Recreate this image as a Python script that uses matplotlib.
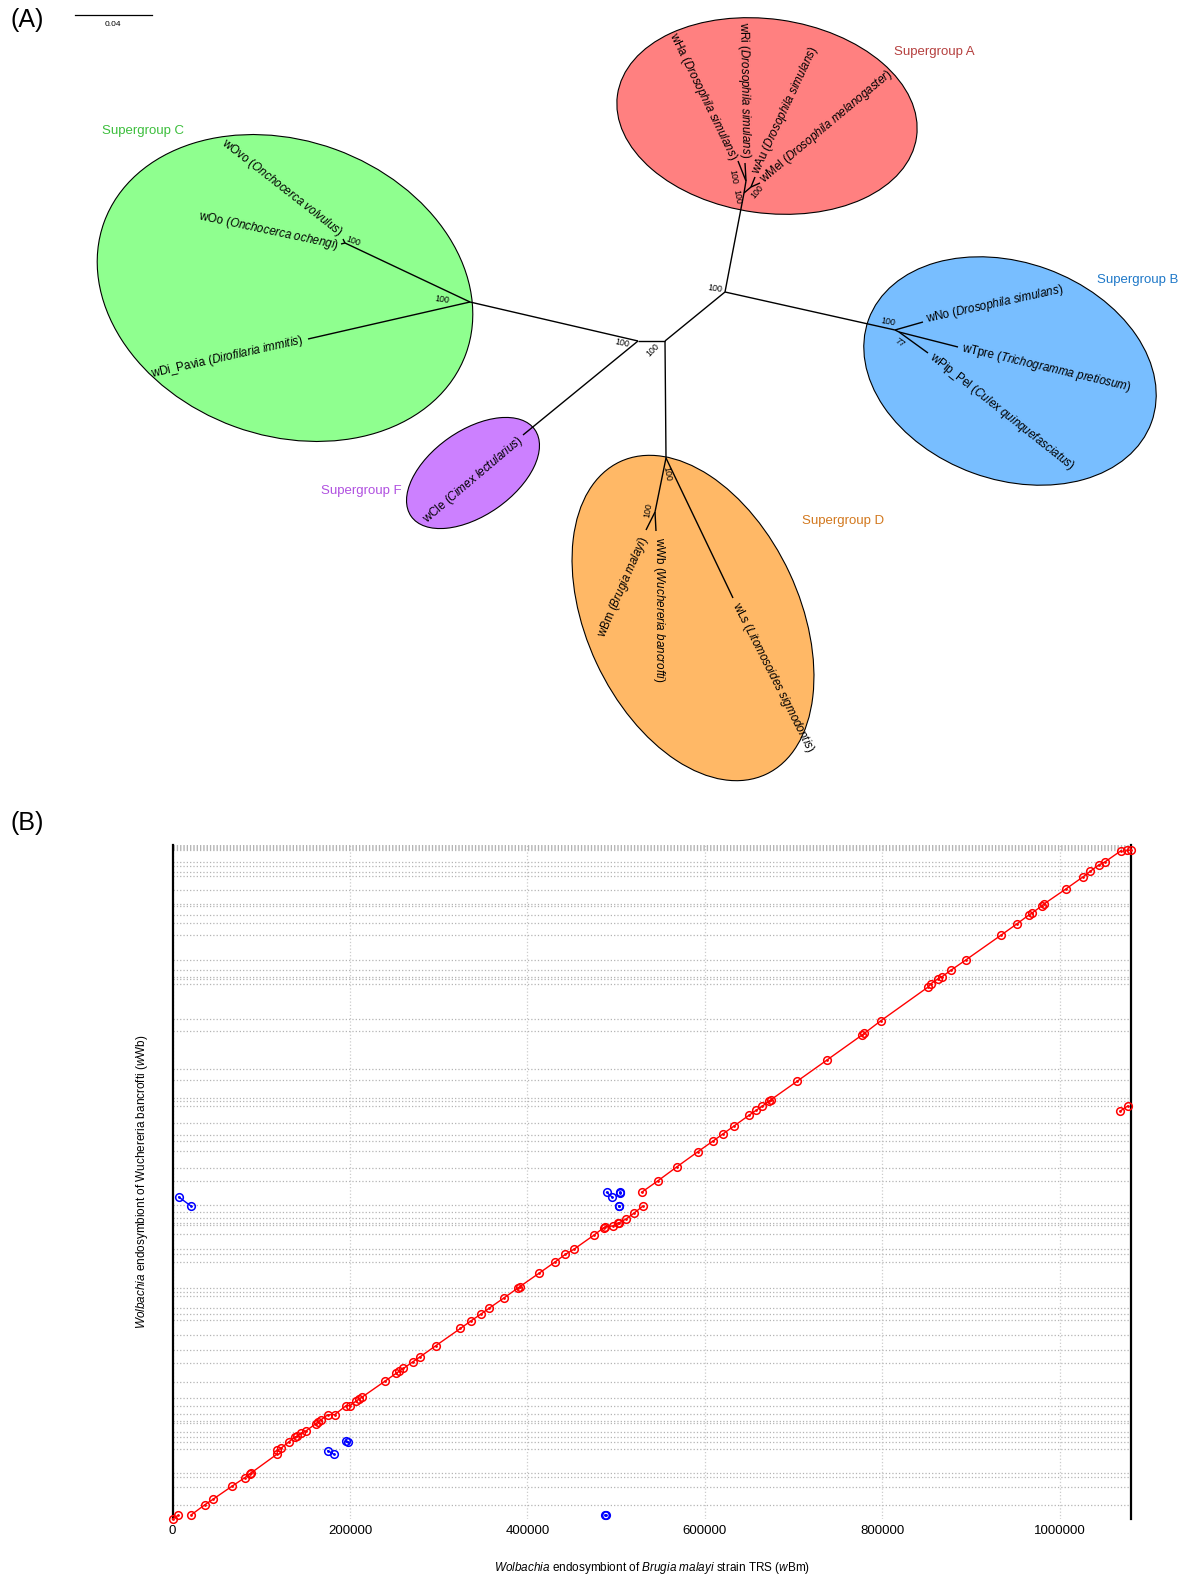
import matplotlib.pyplot as plt
from matplotlib.patches import Ellipse

plt.rcParams['font.family'] = ['Liberation Sans', 'DejaVu Sans']
plt.rcParams['mathtext.fontset'] = 'custom'
plt.rcParams['mathtext.rm'] = 'Liberation Sans'
plt.rcParams['mathtext.it'] = 'Liberation Sans:italic'

# ---------------- panel A: unrooted tree (layout, pixel units)
nodes = {
    'L': (638, 341), 'M': (665, 341), 'AB': (725, 292), 'D': (666, 458),
    'C': (470, 302), 'OvoOo': (345, 243), 'B': (895, 330), 'TP': (899, 332),
    'A': (744, 193), 'HaRi': (746, 181), 'AuMel': (751, 187), 'BmWb': (655, 512),
    'wHa': (738, 161), 'wRi': (745, 163), 'wAu': (755, 177), 'wMel': (760, 183),
    'wOvo': (343, 239), 'wOo': (341, 244), 'wDi': (308, 339), 'wCle': (523, 435),
    'wNo': (923, 322), 'wTpre': (958, 347), 'wPip': (928, 353),
    'wBm': (646, 530), 'wWb': (656, 531), 'wLs': (733, 598),
}
edges = [('L', 'M'), ('M', 'AB'), ('M', 'D'), ('L', 'C'), ('L', 'wCle'),
         ('C', 'OvoOo'), ('C', 'wDi'), ('OvoOo', 'wOvo'), ('OvoOo', 'wOo'),
         ('AB', 'A'), ('AB', 'B'), ('A', 'HaRi'), ('A', 'AuMel'),
         ('HaRi', 'wHa'), ('HaRi', 'wRi'), ('AuMel', 'wAu'), ('AuMel', 'wMel'),
         ('B', 'wNo'), ('B', 'TP'), ('TP', 'wTpre'), ('TP', 'wPip'),
         ('D', 'BmWb'), ('BmWb', 'wBm'), ('BmWb', 'wWb'), ('D', 'wLs')]

# leaf labels: text, anchor, rotation, alignment
leaf_labels = [
    (r'wHa ($\it{Drosophila\ simulans}$)', (734, 160), -64, 'right'),
    (r'wRi ($\it{Drosophila\ simulans}$)', (745, 158), -89, 'right'),
    (r'wAu ($\it{Drosophila\ simulans}$)', (756, 174), 65, 'left'),
    (r'wMel ($\it{Drosophila\ melanogaster}$)', (762, 181), 40, 'left'),
    (r'wOvo ($\it{Onchocerca\ volvulus}$)', (341, 234), -38, 'right'),
    (r'wOo ($\it{Onchocerca\ ochengi}$)', (338, 246), -12, 'right'),
    (r'wDi_Pavia ($\it{Dirofilaria\ immitis}$)', (303, 340), 12.6, 'right'),
    (r'wNo ($\it{Drosophila\ simulans}$)', (926, 319), 12.3, 'left'),
    (r'wTpre ($\it{Trichogramma\ pretiosum}$)', (962, 348), -13.2, 'left'),
    (r'wPip_Pel ($\it{Culex\ quinquefasciatus}$)', (931, 356), -38.3, 'left'),
    (r'wCle ($\it{Cimex\ lectularius}$)', (521, 439), 40.3, 'right'),
    (r'wBm ($\it{Brugia\ malayi}$)', (645, 537), 66.5, 'right'),
    (r'wWb ($\it{Wuchereria\ bancrofti}$)', (659, 537), -90, 'left'),
    (r'wLs ($\it{Litomosoides\ sigmodontis}$)', (735, 603), -63, 'left'),
]

# bootstrap values
boot_text = ['100', '100', '100', '100', '100', '100', '100', '100', '100', '77', '100', '100']
boot_pos = [(715, 289), (622, 343), (653, 350), (442, 300), (353, 241), (737, 197),
            (733, 177), (757, 192), (888, 322), (900, 343), (667, 474), (648, 510)]
boot_rot = [-8, -12, 45, -8, -20, -80, -80, 50, -10, -35, -80, 80]

# supergroups: name, colour, text colour, ellipse centre, width, height, angle
groups = ['Supergroup A', 'Supergroup B', 'Supergroup C', 'Supergroup D', 'Supergroup F']
group_fill = ['#ff8080', '#78beff', '#8fff8f', '#ffb866', '#cc80ff']
group_text = ['#b5403f', '#1e78c8', '#3cbe3c', '#d2781e', '#b050e0']
group_label_pos = [(894, 52), (1097, 280), (102, 131), (802, 521), (321, 491)]
ell_center = [(767, 116), (1010, 371), (285, 288), (693, 618), (473, 473)]
ell_w = [302, 301, 385, 213, 151]
ell_h = [194, 217, 295, 345, 85]
ell_ang = [8, 20, 20, -25, -35]

# ---------------- panel B: dot plot of alignments (bp)
fwd_low_x = [21300, 36600, 46100, 67400, 81400, 87100, 89000, 118000, 118000, 122600,
             130900, 137500, 140500, 145000, 150800, 161400, 164400, 167100, 175100, 182700,
             195500, 200000, 206900, 210600, 213800, 239200, 252200, 255700, 260200, 270500,
             278700, 297000, 324500, 336000, 347600, 356700, 374000, 388900, 391100, 413100,
             431500, 442700, 452200, 475100, 485800, 487700, 495900, 501500, 503500, 511100,
             520600, 530100]
fwd_low_y = [6800, 22700, 31700, 52300, 65400, 71800, 73400, 103000, 108900, 112500,
             122000, 129500, 131500, 135800, 139900, 151000, 154200, 156900, 165300, 165300,
             179500, 179500, 187000, 190600, 193300, 218200, 231000, 234500, 238500, 248800,
             256700, 274900, 302000, 313600, 324800, 333900, 350800, 365700, 367900, 389500,
             407700, 419400, 427300, 450000, 461600, 463100, 464300, 468500, 469500, 475400,
             485300, 495900]
fwd_up_x = [528600, 546700, 568500, 592000, 609600, 620100, 632700, 649900, 657900, 664800,
            671800, 674100, 703900, 737300, 776400, 779700, 798100, 851000, 854600, 862200,
            867100, 877000, 893800, 933800, 951300, 964900, 968000, 979400, 982400, 1007100,
            1026200, 1034200, 1044000, 1050500, 1068800]
fwd_up_y = [517700, 535600, 558200, 582000, 599400, 610000, 622700, 640000, 647900, 654400,
            661800, 664100, 693700, 727100, 766300, 769700, 789400, 842500, 848200, 855600,
            859300, 869400, 885700, 925300, 942800, 957000, 959700, 971300, 974900, 998700,
            1017700, 1026300, 1036700, 1041000, 1058900]
fwd_short = [((0, 6300), (0, 5900)), ((1076000, 1080000), (1059500, 1060000)),
             ((1068000, 1076300), (646500, 654400))]
rev_short = [((7100, 21200), (510200, 495500)), ((489100, 495800), (517700, 509700)),
             ((504100, 504800), (517700, 516900)), ((503000, 503600), (495900, 495200)),
             ((175100, 181900), (108200, 102500)), ((195600, 197900), (123600, 121500)),
             ((487500, 488200), (6300, 5800))]

contig_breaks = [1067500, 1066000, 1064500, 1063000, 1061500, 1060000,
                 1041000, 1034700, 1025200, 1018800, 996700, 974500, 971300, 957000, 944400,
                 925300, 885700, 869900, 858800, 855600, 847700, 792300, 773200, 713000,
                 695600, 667100, 662300, 654400, 627500, 608400, 598900, 583100, 556200,
                 535600, 497500, 486400, 476900, 469000, 465800, 451600, 427800, 419900,
                 407200, 366000, 359700, 353300, 334300, 324800, 315300, 291500, 267800,
                 247200, 217100, 191700, 179000, 166400, 155300, 152100, 137900, 129900,
                 122000, 110900, 72900, 66500, 50700, 22200]
x_ticks = [0, 200000, 400000, 600000, 800000, 1000000]
ref_len = 1080084
qry_len = 1068000

W, H = 1188, 1578
fig = plt.figure(figsize=(W / 100, H / 100), dpi=100)

# ---- panel A
ax1 = fig.add_axes([0, 1 - 800 / H, 1, 800 / H])
ax1.set_xlim(0, W)
ax1.set_ylim(800, 0)
ax1.axis('off')

for i in range(len(groups)):
    ax1.add_patch(Ellipse(ell_center[i], ell_w[i], ell_h[i], angle=ell_ang[i],
                          facecolor=group_fill[i], edgecolor='black', lw=0.8, zorder=1))
    ax1.text(group_label_pos[i][0], group_label_pos[i][1], groups[i], color=group_text[i],
             fontsize=9.5, ha='left', va='center')

for a, b in edges:
    ax1.plot([nodes[a][0], nodes[b][0]], [nodes[a][1], nodes[b][1]],
             color='black', lw=1.0, zorder=2, solid_capstyle='butt')

for txt, pos, rot, ha in leaf_labels:
    ax1.text(pos[0], pos[1], txt, rotation=rot, ha=ha, va='center',
             rotation_mode='anchor', fontsize=8.4, zorder=3)

for t, p, r in zip(boot_text, boot_pos, boot_rot):
    ax1.text(p[0], p[1], t, rotation=r, ha='center', va='center',
             rotation_mode='anchor', fontsize=6.3, zorder=3)

# scale bar
ax1.plot([75, 152], [15, 15], color='black', lw=0.9)
ax1.text(113, 24, '0.04', fontsize=6, ha='center', va='center')

fig.text(10 / W, 1 - 20 / H, '(A)', fontsize=18, ha='left', va='center')
fig.text(10 / W, 1 - 823 / H, '(B)', fontsize=18, ha='left', va='center')

# ---- panel B
ax2 = fig.add_axes([172.5 / W, (H - 1519) / H, 958.5 / W, 674 / H])
ax2.set_xlim(0, ref_len)
ax2.set_ylim(0, qry_len)
ax2.hlines(contig_breaks, 0, ref_len, colors='#b4b4b4', linestyles=':', lw=0.9, zorder=1)
ax2.set_xticks(x_ticks)
ax2.set_xticklabels([str(v) for v in x_ticks], fontsize=9.5)
ax2.set_yticks([])
ax2.tick_params(axis='x', length=0, pad=4)
ax2.grid(axis='x', color='#cccccc', ls=':', lw=0.9, zorder=1)
ax2.set_axisbelow(True)
for s in ['top', 'bottom']:
    ax2.spines[s].set_visible(False)
for s in ['left', 'right']:
    ax2.spines[s].set_linewidth(1.6)


def draw_match(xs, ys, color):
    ax2.plot(xs, ys, color=color, lw=1.0, zorder=3, clip_on=False)
    ax2.plot(xs, ys, ls='none', marker='o', ms=5.5, mfc='none', mec=color, mew=1.1,
             zorder=4, clip_on=False)
    ax2.plot(xs, ys, ls='none', marker='.', ms=2, color=color, zorder=4, clip_on=False)


draw_match(fwd_low_x, fwd_low_y, 'red')
draw_match(fwd_up_x, fwd_up_y, 'red')
for xs, ys in fwd_short:
    draw_match(xs, ys, 'red')
for xs, ys in rev_short:
    draw_match(xs, ys, 'blue')

ax2.set_xlabel(r'$\it{Wolbachia}$ endosymbiont of $\it{Brugia\ malayi}$ strain TRS ($\it{w}$Bm)',
               fontsize=8.5, labelpad=17)
ax2.set_ylabel(r'$\it{Wolbachia}$ endosymbiont of Wuchereria bancrofti ($\it{w}$Wb)',
               fontsize=8.5, labelpad=16)

fig.savefig('out.png', dpi=100)
